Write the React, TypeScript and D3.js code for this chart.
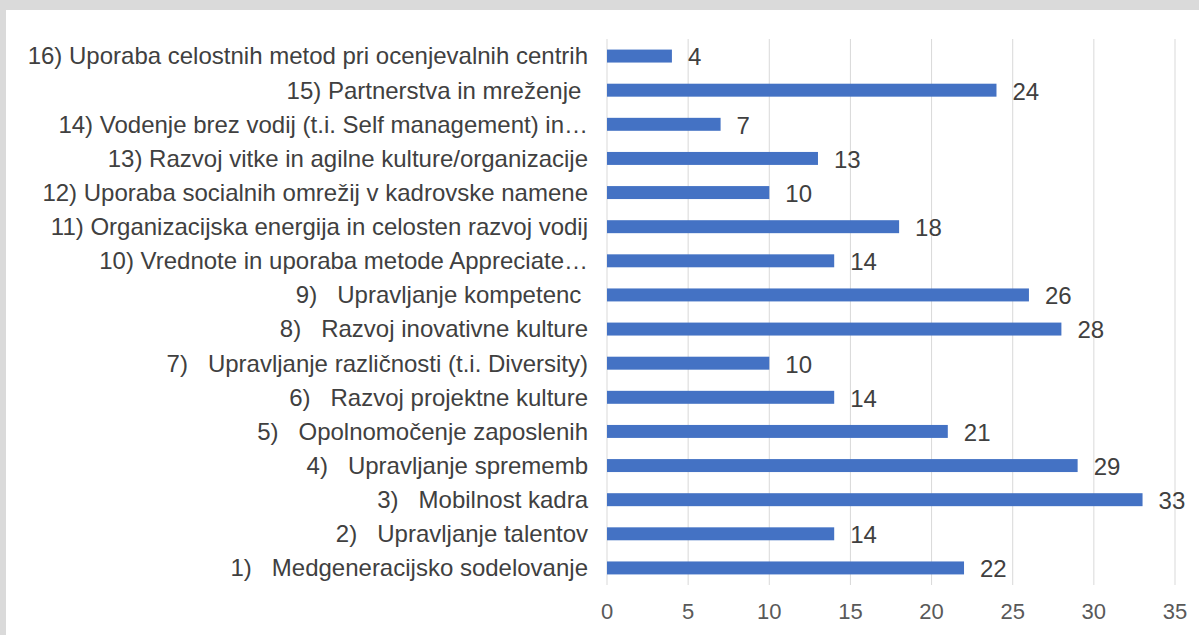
import React, { useEffect, useRef } from "react"
import * as d3 from "d3"

// ---------- Data ----------
const categories = [
    "16) Uporaba celostnih metod pri ocenjevalnih centrih",
    "15) Partnerstva in mreženje ",
    "14) Vodenje brez vodij (t.i. Self management) in…",
    "13) Razvoj vitke in agilne kulture/organizacije",
    "12) Uporaba socialnih omrežij v kadrovske namene",
    "11) Organizacijska energija in celosten razvoj vodij",
    "10) Vrednote in uporaba metode Appreciate…",
    "9)   Upravljanje kompetenc ",
    "8)   Razvoj inovativne kulture",
    "7)   Upravljanje različnosti (t.i. Diversity)",
    "6)   Razvoj projektne kulture",
    "5)   Opolnomočenje zaposlenih",
    "4)   Upravljanje sprememb",
    "3)   Mobilnost kadra",
    "2)   Upravljanje talentov",
    "1)   Medgeneracijsko sodelovanje",
]

const values = [4, 24, 7, 13, 10, 18, 14, 26, 28, 10, 14, 21, 29, 33, 14, 22]

const xTicks = [0, 5, 10, 15, 20, 25, 30, 35]

// ---------- Component ----------
const App: React.FC = () => {
    const svgRef = useRef<SVGSVGElement>(null)
    const width = 1199
    const height = 635

    useEffect(() => {
        if (!svgRef.current) return
        const svg = d3.select(svgRef.current)
        svg.selectAll("*").remove()

        const font = "'Liberation Sans', Arial, sans-serif"

        // frame
        svg.append("rect").attr("width", width).attr("height", height).attr("fill", "#dadada")
        svg.append("rect").attr("x", 6).attr("y", 10).attr("width", width - 6).attr("height", height - 10).attr("fill", "#ffffff")

        const x = d3.scaleLinear().domain([0, 35]).range([607, 1175])
        const y = d3.scaleBand<string>()
            .domain(categories)
            .range([39, 585])
            .paddingInner(0.62)
            .paddingOuter(0.31)

        // Grid
        svg.selectAll(".grid")
            .data(xTicks)
            .enter()
            .append("line")
            .attr("x1", d => x(d))
            .attr("x2", d => x(d))
            .attr("y1", 39)
            .attr("y2", 585)
            .attr("stroke", "#d9d9d9")
            .attr("stroke-width", 1)

        const rows = categories.map((c, i) => ({ c, v: values[i] }))

        // Bars
        svg.selectAll(".bar")
            .data(rows)
            .enter()
            .append("rect")
            .attr("x", x(0))
            .attr("y", d => y(d.c) ?? 0)
            .attr("width", d => x(d.v) - x(0))
            .attr("height", y.bandwidth())
            .attr("fill", "#4472c4")

        // Value labels
        svg.selectAll(".val")
            .data(rows)
            .enter()
            .append("text")
            .attr("x", d => x(d.v) + 16)
            .attr("y", d => (y(d.c) ?? 0) + y.bandwidth() / 2 + 1)
            .attr("dy", "0.35em")
            .attr("font-family", font)
            .attr("font-size", 24)
            .attr("fill", "#404040")
            .text(d => d.v)

        // Category labels
        svg.selectAll(".cat")
            .data(rows)
            .enter()
            .append("text")
            .attr("x", 588)
            .attr("y", d => (y(d.c) ?? 0) + y.bandwidth() / 2)
            .attr("dy", "0.35em")
            .attr("text-anchor", "end")
            .attr("font-family", font)
            .attr("font-size", 24)
            .attr("fill", "#404040")
            .style("white-space", "pre")
            .text(d => d.c)

        // X axis tick labels
        svg.selectAll(".tick")
            .data(xTicks)
            .enter()
            .append("text")
            .attr("x", d => x(d))
            .attr("y", 611)
            .attr("dy", "0.35em")
            .attr("text-anchor", "middle")
            .attr("font-family", font)
            .attr("font-size", 22)
            .attr("fill", "#595959")
            .text(d => d)
    }, [])

    return (
        <div style={{ position: "absolute", left: 0, top: 0 }}>
            <svg ref={svgRef} width={width} height={height} style={{ display: "block" }} />
        </div>
    )
}

export default App
